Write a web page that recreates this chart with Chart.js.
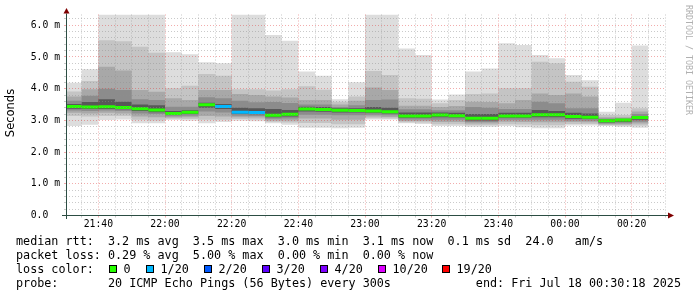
<!DOCTYPE html>
<html><head><meta charset="utf-8">
<script src="https://cdn.jsdelivr.net/npm/chart.js@4.4.0/dist/chart.umd.min.js"></script>
<style>html,body{margin:0;padding:0;background:#fff;}canvas{display:block;}</style>
</head><body>
<canvas id="c" width="697" height="297" style="width:697px;height:297px"></canvas>
<script>
// ---- data (milliseconds) ----
const columnStarts = ['21:30','21:35','21:40','21:45','21:50','21:55','22:00','22:05','22:10','22:15','22:20','22:25','22:30','22:35','22:40','22:45','22:50','22:55','23:00','23:05','23:10','23:15','23:20','23:25','23:30','23:35','23:40','23:45','23:50','23:55','00:00','00:05','00:10','00:15','00:20'];
const columnEnd = '00:25';
const axisStart = '21:30:18';
const axisEnd = '00:30:18';
const xTickLabels = ['21:40','22:00','22:20','22:40','23:00','23:20','23:40','00:00','00:20'];
const yTickLabels = ['0.0','1.0 m','2.0 m','3.0 m','4.0 m','5.0 m','6.0 m'];

const rttMax = [4.19,4.61,6.40,6.40,6.40,6.40,5.15,5.09,4.83,4.80,6.40,6.40,5.69,5.51,4.54,4.41,3.67,4.20,6.40,6.40,5.27,5.06,3.66,3.82,4.54,4.64,5.43,5.38,5.06,4.96,4.43,4.27,3.27,3.56,5.36];
const smokeUp1 = [3.91,4.24,5.53,5.50,5.32,5.13,4.01,4.09,4.46,4.41,3.98,3.98,3.94,3.98,4.08,3.97,3.59,3.75,4.56,4.43,3.70,3.68,3.54,3.64,3.83,3.85,4.01,4.01,4.85,4.80,4.22,4.06,3.17,3.17,3.38];
const smokeUp2 = [3.75,3.98,4.69,4.57,3.96,3.90,3.70,3.64,3.96,3.96,3.83,3.80,3.75,3.72,3.64,3.64,3.50,3.62,4.04,3.96,3.46,3.46,3.42,3.45,3.59,3.58,3.54,3.64,3.85,3.80,3.85,3.75,3.10,3.10,3.28];
const smokeUp3 = [3.62,3.78,4.00,3.96,3.67,3.64,3.43,3.43,3.73,3.70,3.62,3.57,3.58,3.55,3.50,3.50,3.42,3.48,3.64,3.66,3.35,3.35,3.32,3.32,3.42,3.40,3.36,3.36,3.59,3.54,3.38,3.38,3.06,3.07,3.20];
const smokeUp4 = [3.52,3.58,3.67,3.59,3.50,3.48,3.30,3.32,3.56,3.52,3.40,3.38,3.36,3.33,3.43,3.42,3.38,3.38,3.42,3.40,3.25,3.25,3.25,3.24,3.20,3.20,3.24,3.24,3.33,3.30,3.24,3.22,3.03,3.04,3.14];
const rttMedian = [3.44,3.42,3.43,3.41,3.37,3.33,3.22,3.26,3.49,3.44,3.26,3.25,3.16,3.19,3.36,3.34,3.32,3.31,3.30,3.27,3.14,3.14,3.17,3.15,3.07,3.07,3.14,3.14,3.18,3.18,3.12,3.10,2.99,3.01,3.09];
const smokeLo4 = [3.37,3.36,3.36,3.35,3.30,3.26,3.17,3.20,3.40,3.36,3.20,3.19,3.10,3.12,3.28,3.27,3.25,3.25,3.24,3.22,3.08,3.08,3.10,3.09,3.00,3.00,3.08,3.08,3.10,3.10,3.05,3.04,2.93,2.95,3.02];
const smokeLo3 = [3.31,3.30,3.31,3.30,3.22,3.20,3.13,3.15,3.28,3.25,3.15,3.14,3.05,3.06,3.18,3.18,3.16,3.16,3.18,3.16,3.03,3.03,3.02,3.02,2.95,2.95,3.02,3.02,3.02,3.02,3.00,2.99,2.90,2.91,2.96];
const smokeLo2 = [3.24,3.22,3.24,3.22,3.12,3.10,3.09,3.10,3.14,3.12,3.10,3.09,3.00,3.00,3.06,3.06,3.02,3.02,3.12,3.11,2.98,2.98,2.95,2.95,2.90,2.90,2.96,2.95,2.94,2.94,2.95,2.94,2.87,2.87,2.90];
const smokeLo1 = [3.14,3.12,3.14,3.14,3.02,3.00,3.05,3.04,3.02,3.02,3.04,3.03,2.96,2.93,2.92,2.92,2.88,2.88,3.07,3.06,2.94,2.93,2.88,2.88,2.85,2.85,2.88,2.87,2.85,2.85,2.89,2.89,2.85,2.84,2.84];
const rttMin = [2.82,2.86,3.01,3.03,2.91,2.91,3.01,2.99,2.91,2.95,2.99,2.97,2.91,2.86,2.77,2.77,2.75,2.77,3.03,3.03,2.91,2.89,2.82,2.82,2.80,2.80,2.82,2.78,2.75,2.75,2.84,2.84,2.82,2.80,2.77];
const lossCount = [0,0,0,0,0,0,0,0,0,1,1,1,0,0,0,0,0,0,0,0,0,0,0,0,0,0,0,0,0,0,0,0,0,0,0];

const lossLabels = ['0','1/20','2/20','3/20','4/20','10/20','19/20'];
const lossThresholds = [0,1,2,3,4,10,19];
const lossColors = ['#26ff00','#00b8ff','#0059ff','#5e00ff','#7e00ff','#dd00ff','#ff0000'];

const statLines = [
  'median rtt:  3.2 ms avg  3.5 ms max  3.0 ms min  3.1 ms now  0.1 ms sd  24.0   am/s',
  'packet loss: 0.29 % avg  5.00 % max  0.00 % min  0.00 % now'
];
const lossTitle = 'loss color:';
const probeLine = 'probe:       20 ICMP Echo Pings (56 Bytes) every 300s            end: Fri Jul 18 00:30:18 2025';
const yTitle = 'Seconds';
const watermark = 'RRDTOOL / TOBI OETIKER';

// ---- helpers ----
function toMin(t){
  const p = t.split(':').map(Number);
  let m = p[0]*60 + p[1] + (p[2]||0)/60;
  if (p[0] < 12) m += 24*60;
  return m - (21*60+30);
}
function stepData(arr){
  const pts = columnStarts.map((t,i)=>({x:toMin(t), y:arr[i]}));
  pts.push({x:toMin(columnEnd), y:arr[arr.length-1]});
  return pts;
}
function lossColor(c){
  let col = lossColors[0];
  lossThresholds.forEach((t,i)=>{ if (c >= t) col = lossColors[i]; });
  return col;
}

const bands = [
  [rttMax, rttMin, '#dddddd'],
  [smokeUp1, smokeLo1, '#c4c4c4'],
  [smokeUp2, smokeLo2, '#a8a8a8'],
  [smokeUp3, smokeLo3, '#8c8c8c'],
  [smokeUp4, smokeLo4, '#585858']
];
const datasets = [];
bands.forEach((b,k)=>{
  datasets.push({data: stepData(b[0]), fill: '+1', backgroundColor: b[2], borderColor: 'rgba(0,0,0,0)', borderWidth: 0, pointRadius: 0, stepped: 'before', order: 100-2*k});
  datasets.push({data: stepData(b[1]), fill: false, borderColor: 'rgba(0,0,0,0)', borderWidth: 0, pointRadius: 0, stepped: 'before', order: 99-2*k});
});
const medPts = [];
columnStarts.forEach((t,i)=>{
  const s = toMin(t);
  const e = i < columnStarts.length-1 ? toMin(columnStarts[i+1]) : toMin(columnEnd);
  medPts.push({x:s, y:rttMedian[i]}, {x:e, y:rttMedian[i]}, {x:e, y:null});
});
datasets.push({data: medPts, fill: false, borderWidth: 3, pointRadius: 0, borderCapStyle: 'butt', spanGaps: false, order: 0,
  borderColor: '#26ff00',
  segment: { borderColor: ctx => lossColor(lossCount[Math.floor(ctx.p0DataIndex/3)]) }});

const xMin = toMin(axisStart), xMax = toMin(axisEnd);
const majorX = xTickLabels.map(toMin);
const isMajorX = v => majorX.some(m => Math.abs(m - v) < 1e-6);
const MINOR = 'rgba(143,143,143,0.47)';
const MAJOR = 'rgba(222,48,48,0.40)';

const deco = {
  id: 'deco',
  afterDraw(chart){
    const ctx = chart.ctx, a = chart.chartArea;
    ctx.save();
    // axes
    ctx.strokeStyle = '#2C4D43'; ctx.lineWidth = 1;
    ctx.beginPath();
    ctx.moveTo(62, a.bottom); ctx.lineTo(a.right+2, a.bottom);
    ctx.moveTo(a.left+0.5, a.bottom+3.5); ctx.lineTo(a.left+0.5, a.top-1);
    ctx.stroke();
    ctx.fillStyle = '#7f0000';
    ctx.beginPath();
    ctx.moveTo(a.right+2, a.bottom-3); ctx.lineTo(a.right+8, a.bottom); ctx.lineTo(a.right+2, a.bottom+3); ctx.closePath(); ctx.fill();
    ctx.beginPath();
    ctx.moveTo(a.left-2.5, a.top-1); ctx.lineTo(a.left+0.5, a.top-6.5); ctx.lineTo(a.left+3.5, a.top-1); ctx.closePath(); ctx.fill();
    // y title
    ctx.fillStyle = '#000';
    ctx.font = '11.5px "DejaVu Sans"';
    ctx.textAlign = 'center'; ctx.textBaseline = 'middle';
    ctx.save(); ctx.translate(11, 113); ctx.rotate(-Math.PI/2); ctx.fillText(yTitle, 0, 0); ctx.restore();
    // watermark
    ctx.fillStyle = '#b0b0b0';
    ctx.font = '8.3px "DejaVu Sans Mono"';
    ctx.textAlign = 'left'; ctx.textBaseline = 'middle';
    ctx.save(); ctx.translate(688, 5); ctx.rotate(Math.PI/2); ctx.fillText(watermark, 0, 0); ctx.restore();
    // legend text
    ctx.fillStyle = '#000';
    ctx.font = '11.75px "DejaVu Sans Mono"';
    ctx.textAlign = 'left'; ctx.textBaseline = 'alphabetic';
    ctx.fillText(statLines[0], 16, 245);
    ctx.fillText(statLines[1], 16, 258.9);
    ctx.fillText(lossTitle, 16, 272.8);
    const boxX = [109,146,204,262,320,378,442];
    lossLabels.forEach((l,i)=>{
      ctx.fillStyle = lossColors[i];
      ctx.fillRect(boxX[i], 265, 8, 8);
      ctx.strokeStyle = '#000'; ctx.lineWidth = 1;
      ctx.strokeRect(boxX[i]+0.5, 265.5, 7, 7);
      ctx.fillStyle = '#000';
      ctx.fillText(l, boxX[i]+14.5, 272.8);
    });
    ctx.fillText(probeLine, 16, 286.7);
    ctx.restore();
  }
};

new Chart(document.getElementById('c'), {
  type: 'line',
  data: { datasets },
  options: {
    responsive: false, animation: false, devicePixelRatio: 1,
    layout: { padding: { left: 0, top: 14.5, right: 31, bottom: 0 } },
    plugins: { legend: { display: false }, tooltip: { enabled: false } },
    elements: { line: { tension: 0 } },
    scales: {
      x: {
        type: 'linear', min: xMin, max: xMax,
        afterBuildTicks: s => { const t = []; for (let v = 5; v <= 180; v += 5) t.push({value: v}); s.ticks = t; },
        afterFit: s => { s.height = 81.5; },
        ticks: { autoSkip: false, maxRotation: 0, padding: 1.5, color: '#000', font: { family: 'DejaVu Sans Mono', size: 9.75 },
          callback: v => { const i = majorX.findIndex(m => Math.abs(m - v) < 1e-6); return i >= 0 ? xTickLabels[i] : ''; } },
        grid: { z: 1, color: c => isMajorX(c.tick.value) ? MAJOR : MINOR, tickColor: c => isMajorX(c.tick.value) ? MAJOR : MINOR, tickLength: 2, lineWidth: 1 },
        border: { display: false, dash: [1,2] }
      },
      y: {
        type: 'linear', min: 0, max: 6.34,
        afterBuildTicks: s => { const t = []; for (let k = 0; k <= 31; k++) t.push({value: k/5}); s.ticks = t; },
        afterFit: s => { s.width = 66; },
        ticks: { autoSkip: false, padding: 4, color: '#000', font: { family: 'DejaVu Sans Mono', size: 9.75 },
          callback: (v, i) => i % 5 === 0 ? yTickLabels[i/5].padEnd(5, ' ') : '' },
        grid: { z: 1, color: c => (c.index % 5 === 0) ? MAJOR : MINOR, tickColor: c => (c.index % 5 === 0) ? MAJOR : MINOR, tickLength: 2, lineWidth: 1 },
        border: { display: false, dash: [1,2] }
      }
    }
  },
  plugins: [deco]
});
</script>
</body></html>
